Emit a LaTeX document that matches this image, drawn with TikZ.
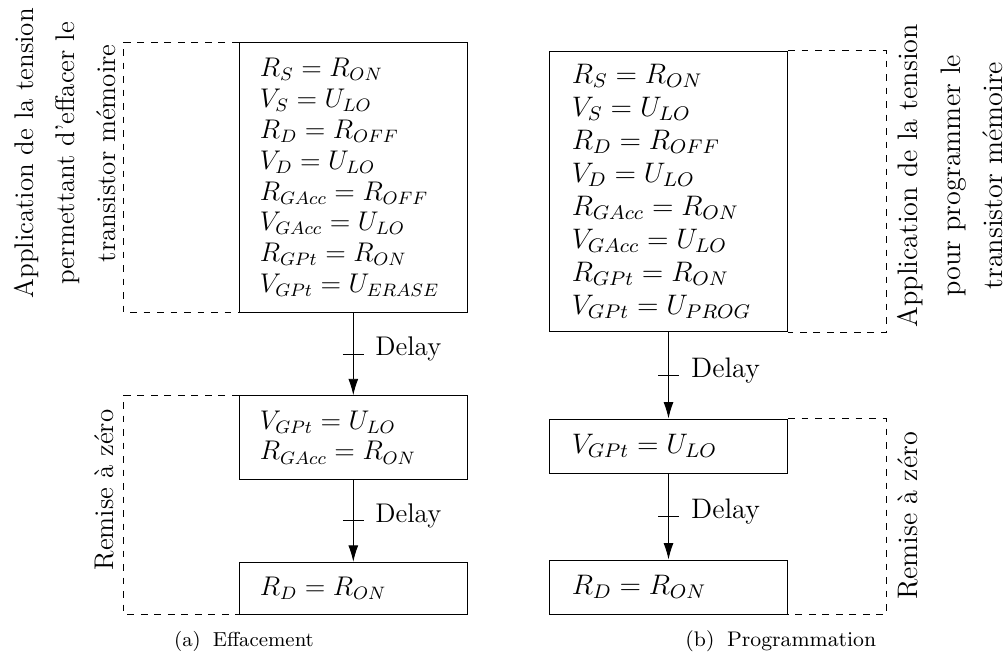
\documentclass[tikz,border=0pt]{standalone}
\usepackage{fix-cm}
\usetikzlibrary{arrows.meta}

\begin{document}
\begin{tikzpicture}[x=0.4444pt,y=-0.4444pt]
    \pgfmathsetmacro{\xa}{353.3}
    \pgfmathsetmacro{\xb}{668.5}
    \pgfmathsetmacro{\tick}{10.5}
    \tikzset{etapeA/.style={draw,rectangle,align=left,inner xsep=9.3pt,inner ysep=0pt,text width=83pt,font=\fontsize{12}{13.7}\selectfont},
             etapeB/.style={draw,rectangle,align=left,inner xsep=10pt,inner ysep=0pt,text width=85.95pt,font=\fontsize{12.54}{14.7}\selectfont},
             cadre/.style={draw,dashed},
             fleche/.style={draw,-{Latex[length=7.3pt,width=4.4pt]}},
             delaiA/.style={anchor=base west,inner sep=0pt,font=\fontsize{12}{14}\selectfont},
             delaiB/.style={anchor=base west,inner sep=0pt,font=\fontsize{12.54}{15}\selectfont},
             phaseA/.style={rotate=90,align=center,inner sep=0pt,font=\fontsize{12}{18.1}\selectfont},
             phaseB/.style={rotate=90,align=center,inner sep=0pt,font=\fontsize{12.54}{18.9}\selectfont},
             legende/.style={anchor=base,inner sep=0pt}}
    \useasboundingbox (0,0) rectangle (1007,655);
    \node[etapeA,minimum height=119.8pt] (A1) at (\xa,177.5) {$R_S = R_{ON}$\\$V_S = U_{LO}$\\$R_D = R_{OFF}$\\$V_D = U_{LO}$\\$R_{GAcc} = R_{OFF}$\\$V_{GAcc} = U_{LO}$\\$R_{GPt} = R_{ON}$\\$V_{GPt} = U_{ERASE}$};
    \node[etapeA,minimum height=37pt] (A2) at (\xa,437.35) {$V_{GPt} = U_{LO}$\\$R_{GAcc} = R_{ON}$};
    \node[etapeA,minimum height=23pt] (A3) at (\xa,588.15) {$R_D = R_{ON}$};
    \node[etapeB,minimum height=124.7pt] (B1) at (\xb,191.35) {$R_S = R_{ON}$\\$V_S = U_{LO}$\\$R_D = R_{OFF}$\\$V_D = U_{LO}$\\$R_{GAcc} = R_{ON}$\\$V_{GAcc} = U_{LO}$\\$R_{GPt} = R_{ON}$\\$V_{GPt} = U_{PROG}$};
    \node[etapeB,minimum height=24pt] (B2) at (\xb,446) {$V_{GPt} = U_{LO}$};
    \node[etapeB,minimum height=24pt] (B3) at (\xb,587) {$R_D = R_{ON}$};
    \draw[cadre] (A1.north west) -- ++(-114.7,0) |- (A1.south west);
    \draw[cadre] (A2.north west) -- ++(-114.7,0) |- (A3.south west);
    \draw[cadre] (B1.north east) -- ++(98,0) |- (B1.south east);
    \draw[cadre] (B2.north east) -- ++(98,0) |- (B3.south east);
    \draw[fleche] (A1) -- coordinate[midway] (tA1) (A2);
    \draw[fleche] (A2) -- coordinate[midway] (tA2) (A3);
    \draw[fleche] (B1) -- coordinate[midway] (tB1) (B2);
    \draw[fleche] (B2) -- coordinate[midway] (tB2) (B3);
    \draw (tA1) +(-\tick,0) -- +(\tick,0);
    \draw (tA2) +(-\tick,0) -- +(\tick,0);
    \draw (tB1) +(-\tick,0) -- +(\tick,0);
    \draw (tB2) +(-\tick,0) -- +(\tick,0);
    \node[delaiA] (dA1) at ([shift={(21.7,2)}]tA1) {Delay};
    \node[delaiA] (dA2) at ([shift={(21.7,2)}]tA2) {Delay};
    \node[delaiB] (dB1) at ([shift={(22.2,2)}]tB1) {Delay};
    \node[delaiB] (dB2) at ([shift={(22.2,2)}]tB2) {Delay};
    \node[phaseA] (pA1) at (65,153.3) {Application de la tension\\permettant d'effacer le\\transistor mémoire};
    \node[phaseA,anchor=base] (pA2) at (113.3,490) {Remise à zéro};
    \node[phaseB] (pB1) at (950.3,175.7) {Application de la tension\\pour programmer le\\transistor mémoire};
    \node[phaseB,anchor=base] (pB2) at (917.6,516) {Remise à zéro};
    \node[legende,font=\fontsize{9}{11}\selectfont] (capA) at (244,646.7) {(a)\hspace{0.6em}Effacement};
    \node[legende,font=\fontsize{9.4}{11.5}\selectfont] (capB) at (780.8,646.7) {(b)\hspace{0.6em}Programmation};
\end{tikzpicture}
\end{document}
